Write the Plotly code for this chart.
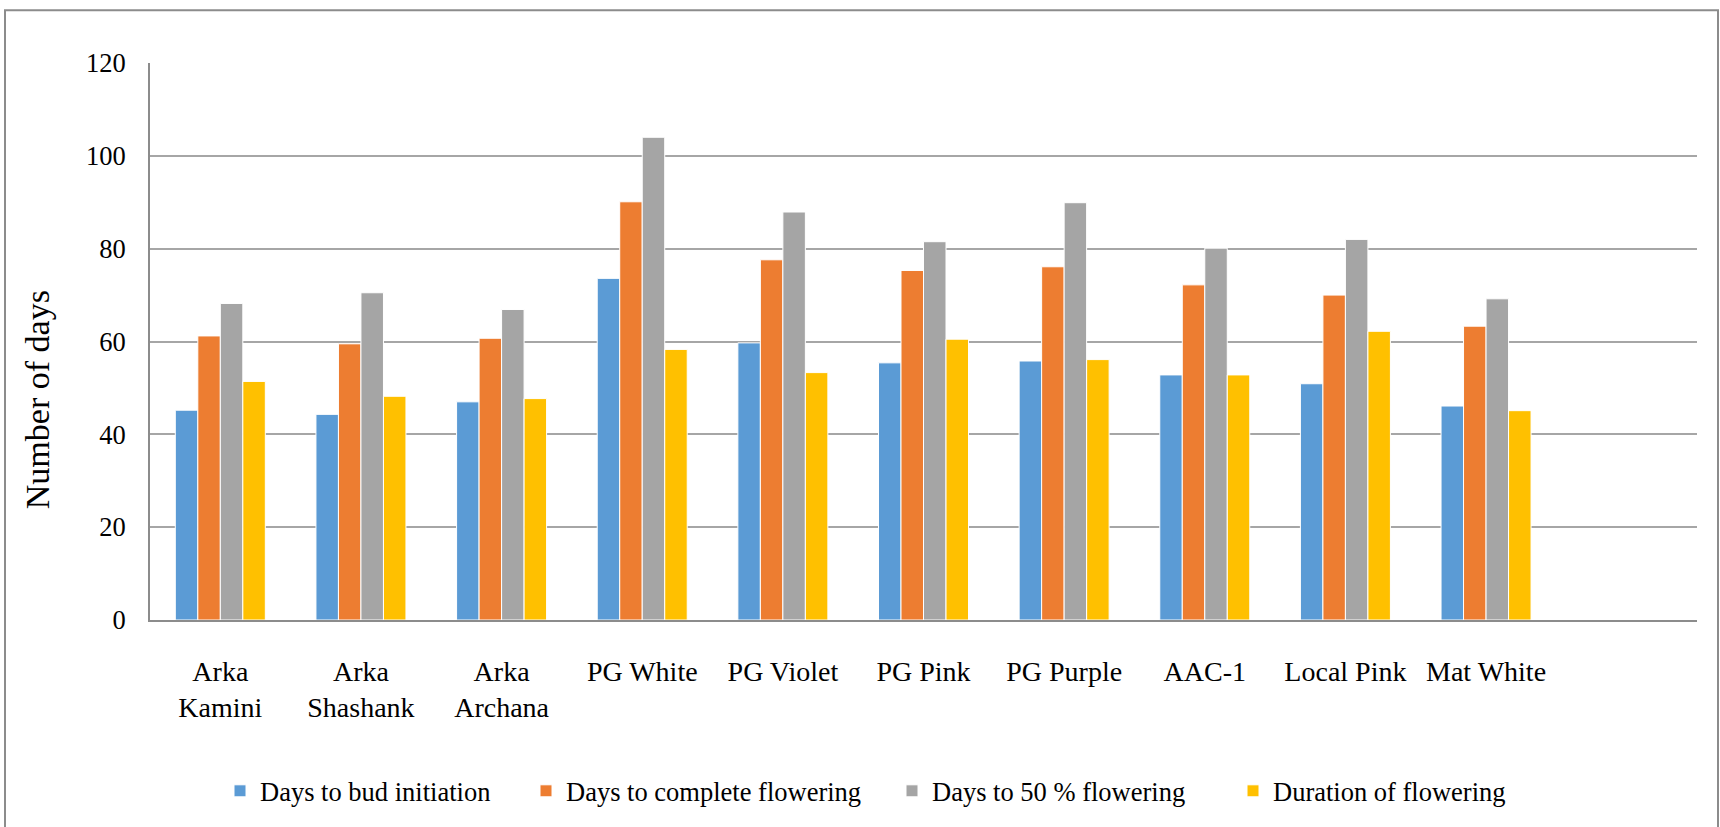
import plotly.graph_objects as go

categories = ["Arka Kamini", "Arka Shashank", "Arka Archana", "PG White", "PG Violet",
              "PG Pink", "PG Purple", "AAC-1", "Local Pink", "Mat White"]
tick_labels = ["Arka<br>Kamini", "Arka<br>Shashank", "Arka<br>Archana", "PG White", "PG Violet",
               "PG Pink", "PG Purple", "AAC-1", "Local Pink", "Mat White"]

bud_initiation = [45.2, 44.3, 47.0, 73.6, 59.7, 55.4, 55.8, 52.8, 50.9, 46.1]
complete_flowering = [61.2, 59.5, 60.7, 90.1, 77.6, 75.3, 76.1, 72.2, 70.0, 63.3]
fifty_pct_flowering = [68.2, 70.5, 66.9, 104.0, 87.9, 81.5, 89.9, 80.1, 82.0, 69.2]
duration_flowering = [51.4, 48.2, 47.7, 58.3, 53.3, 60.5, 56.1, 52.8, 62.2, 45.1]

series = [
    ("Days to bud initiation", bud_initiation, "#5B9BD5"),
    ("Days to complete flowering", complete_flowering, "#ED7D31"),
    ("Days to 50 % flowering", fifty_pct_flowering, "#A5A5A5"),
    ("Duration of flowering", duration_flowering, "#FFC000"),
]

FONT = "Liberation Serif, Times New Roman, serif"

W, H = 1720, 827
L, R, T, B = 150, 23, 63, 204
pw, ph = W - L - R, H - T - B

legend_names = ["legend", "legend2", "legend3", "legend4"]
legend_left_px = [220, 526, 892, 1233]

fig = go.Figure()
for (name, vals, color), lg in zip(series, legend_names):
    fig.add_trace(go.Bar(
        x=list(range(len(categories))), y=vals, name=name, legend=lg,
        marker=dict(color=color, line=dict(color="white", width=1)),
        hovertext=categories,
    ))

legend_y = -(795 - (T + ph)) / ph
legend_layout = {}
for lg, px in zip(legend_names, legend_left_px):
    legend_layout[lg] = dict(
        orientation="h", x=(px - L) / pw, xanchor="left",
        y=legend_y, yanchor="middle",
        font=dict(size=26.5, family=FONT), bgcolor="rgba(0,0,0,0)",
    )

fig.update_layout(
    width=W, height=H,
    margin=dict(l=L, r=R, t=T, b=B),
    paper_bgcolor="white", plot_bgcolor="white",
    barmode="group", bargap=0.36, bargroupgap=0,
    font=dict(family=FONT, color="black", size=26),
    showlegend=True,
    **legend_layout,
    xaxis=dict(
        tickmode="array", tickvals=list(range(len(categories))), ticktext=tick_labels,
        range=[-0.5, 10.5], showgrid=False, zeroline=False,
        showline=True, linecolor="#8c8c8c", linewidth=2,
        ticks="", ticklabelstandoff=25, tickfont=dict(size=28),
    ),
    yaxis=dict(
        range=[0, 120], dtick=20, tick0=0,
        showgrid=True, gridcolor="#a6a6a6", gridwidth=1.5,
        zeroline=False, showline=True, linecolor="#8c8c8c", linewidth=2,
        ticks="", ticklabelstandoff=17, tickfont=dict(size=26.5),
    ),
    annotations=[dict(
        text="Number of days", textangle=-90, showarrow=False,
        xref="paper", yref="paper", x=(37 - L) / pw, y=(T + ph - 402) / ph,
        xanchor="center", yanchor="middle", font=dict(size=34, family=FONT),
    )],
    shapes=[dict(
        type="rect", xref="paper", yref="paper",
        x0=(5 - L) / pw, x1=(1718 - L) / pw,
        y0=(T + ph - 840) / ph, y1=(T + ph - 10) / ph,
        line=dict(color="#8c8c8c", width=2), fillcolor="rgba(0,0,0,0)", layer="below",
    )],
)

fig.write_html("out.html")
